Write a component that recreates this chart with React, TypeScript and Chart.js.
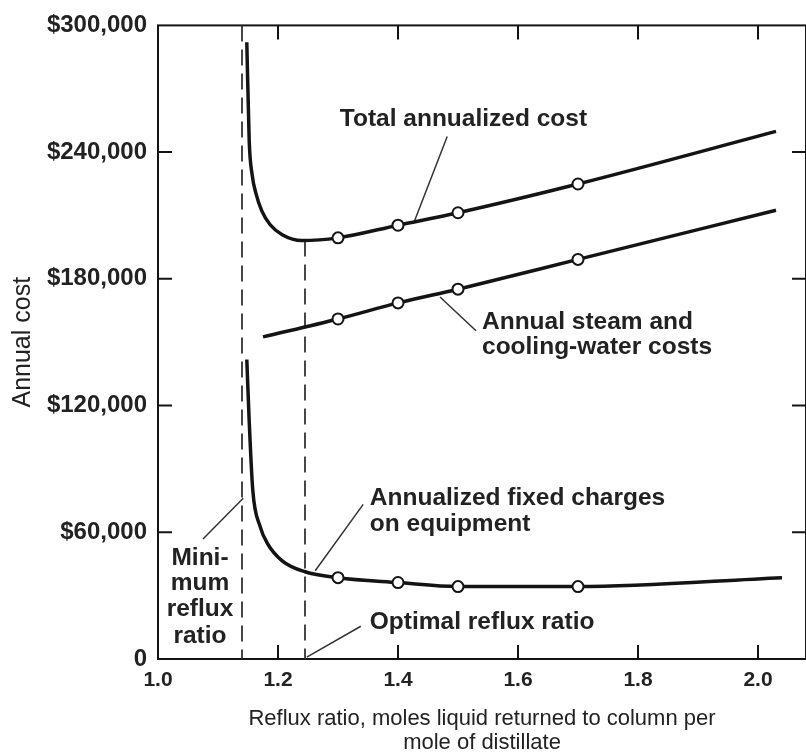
import React, { useEffect, useRef } from "react";
import { Chart, registerables } from "chart.js";

Chart.register(...registerables);

// ---- data ----
const xTicks = [1.0, 1.2, 1.4, 1.6, 1.8, 2.0];
const yTicks = [0, 60000, 120000, 180000, 240000, 300000];

const totalR = [1.148, 1.152, 1.157, 1.163, 1.173, 1.187, 1.207, 1.24, 1.3, 1.4, 1.5, 1.7, 2.03];
const totalCost = [292000, 245500, 229100, 220700, 212200, 205600, 200900, 198100, 199400, 205400, 211300, 224900, 249800];

const steamR = [1.175, 1.3, 1.4, 1.5, 1.7, 2.03];
const steamCost = [152500, 161000, 168600, 175100, 189200, 212500];

const fixedR = [1.148, 1.152, 1.158, 1.17, 1.182, 1.207, 1.245, 1.3, 1.4, 1.5, 1.7, 2.04];
const fixedCost = [141800, 112700, 79800, 62900, 54900, 46500, 41300, 38500, 36200, 34300, 34300, 38500];

const markedR = [1.3, 1.4, 1.5, 1.7];

const minRefluxR = 1.14;
const optimalR = 1.245;
const optimalCost = 198100;

// annotation texts (anchored in data units)
const notes = [
  { lines: ["Total annualized cost"], x: 1.303, y: [255400], align: "left", leader: [1.482, 247400, 1.427, 207000] },
  { lines: ["Annual steam and", "cooling-water costs"], x: 1.54, y: [159600, 147400], align: "left", leader: [1.47, 171400, 1.53, 155400] },
  { lines: ["Annualized fixed charges", "on equipment"], x: 1.353, y: [76100, 63900], align: "left", leader: [1.342, 73200, 1.262, 41800] },
  { lines: ["Mini-", "mum", "reflux", "ratio"], x: 1.07, y: [47900, 35700, 23500, 10800], align: "center", leader: [1.075, 56800, 1.142, 76100] },
  { lines: ["Optimal reflux ratio"], x: 1.353, y: [17400], align: "left", leader: [1.248, 900, 1.338, 15500] },
];

const FONT = "'Liberation Sans', Arial, Helvetica, sans-serif";
const INK = "#141414";
const TEXT = "#222";

const toPts = (xs: number[], ys: number[]) => xs.map((x, i) => ({ x, y: ys[i] }));

const framePlugin = {
  id: "frameAndNotes",
  beforeDatasetsDraw(chart: any) {
    const { ctx, chartArea: a, scales } = chart;
    const xs = scales.x;
    const ys = scales.y;
    ctx.save();
    // frame
    ctx.strokeStyle = INK;
    ctx.lineWidth = 2;
    ctx.strokeRect(a.left, a.top, a.right - a.left, a.bottom - a.top);
    // inward ticks
    const tl = 14;
    ctx.lineWidth = 2;
    ctx.beginPath();
    yTicks.forEach((v) => {
      if (v === yTicks[0] || v === yTicks[yTicks.length - 1]) return;
      const py = ys.getPixelForValue(v);
      ctx.moveTo(a.left, py);
      ctx.lineTo(a.left + tl, py);
      ctx.moveTo(a.right, py);
      ctx.lineTo(a.right - tl, py);
    });
    xTicks.forEach((v) => {
      if (v === xTicks[0]) return;
      const px = xs.getPixelForValue(v);
      ctx.moveTo(px, a.bottom);
      ctx.lineTo(px, a.bottom - tl);
      ctx.moveTo(px, a.top);
      ctx.lineTo(px, a.top + tl);
    });
    ctx.stroke();
    // dashed verticals
    ctx.setLineDash([16, 8]);
    ctx.lineWidth = 1.8;
    ctx.strokeStyle = "#333";
    ctx.beginPath();
    const pmin = xs.getPixelForValue(minRefluxR);
    ctx.moveTo(pmin, a.top);
    ctx.lineTo(pmin, a.bottom);
    const popt = xs.getPixelForValue(optimalR);
    ctx.moveTo(popt, ys.getPixelForValue(optimalCost));
    ctx.lineTo(popt, a.bottom);
    ctx.stroke();
    ctx.setLineDash([]);
    // leaders
    ctx.lineWidth = 1.5;
    ctx.strokeStyle = "#333";
    ctx.beginPath();
    notes.forEach((n) => {
      const [x1, y1, x2, y2] = n.leader;
      ctx.moveTo(xs.getPixelForValue(x1), ys.getPixelForValue(y1));
      ctx.lineTo(xs.getPixelForValue(x2), ys.getPixelForValue(y2));
    });
    ctx.stroke();
    ctx.restore();
  },
  afterDatasetsDraw(chart: any) {
    const { ctx, scales } = chart;
    const xs = scales.x;
    const ys = scales.y;
    ctx.save();
    ctx.fillStyle = TEXT;
    ctx.font = `bold 24.5px ${FONT}`;
    ctx.textBaseline = "middle";
    notes.forEach((n) => {
      ctx.textAlign = n.align as CanvasTextAlign;
      const px = xs.getPixelForValue(n.x);
      n.lines.forEach((t, i) => {
        ctx.fillText(t, px, ys.getPixelForValue(n.y[i]));
      });
    });
    ctx.restore();
  },
};

export default function App() {
  const ref = useRef<HTMLCanvasElement | null>(null);
  useEffect(() => {
    document.body.style.margin = "0";
    const canvas = ref.current;
    if (!canvas) return;
    const lineStyle = {
      borderColor: INK,
      borderWidth: 3.5,
      cubicInterpolationMode: "monotone" as const,
      pointRadius: (c: any) => (c.raw && markedR.includes(c.raw.x) ? 5.5 : 0),
      pointHoverRadius: 0,
      pointBackgroundColor: "#fff",
      pointBorderColor: INK,
      pointBorderWidth: 2,
      fill: false,
    };
    const chart = new Chart(canvas, {
      type: "line",
      data: {
        datasets: [
          { label: "Total annualized cost", data: toPts(totalR, totalCost), ...lineStyle },
          { label: "Annual steam and cooling-water costs", data: toPts(steamR, steamCost), ...lineStyle },
          { label: "Annualized fixed charges on equipment", data: toPts(fixedR, fixedCost), ...lineStyle },
        ],
      },
      options: {
        animation: false,
        responsive: false,
        devicePixelRatio: 1,
        layout: { padding: { top: 20, right: 0, bottom: 0, left: 0 } },
        plugins: { legend: { display: false }, tooltip: { enabled: false } },
        events: [],
        scales: {
          x: {
            type: "linear",
            min: 1.0,
            max: 2.08,
            grid: { display: false, drawTicks: false },
            border: { display: false },
            afterBuildTicks: (s: any) => {
              s.ticks = xTicks.map((v) => ({ value: v }));
            },
            afterFit: (s: any) => {
              s.height = 96;
            },
            ticks: {
              padding: 9,
              autoSkip: false,
              maxRotation: 0,
              color: TEXT,
              font: { family: FONT, size: 21, weight: "bold" },
              callback: (v: any) => Number(v).toFixed(1),
            },
            title: {
              display: true,
              text: ["Reflux ratio, moles liquid returned to column per", "mole of distillate"],
              color: TEXT,
              font: { family: FONT, size: 22, lineHeight: 1.1 },
              padding: { top: 0, bottom: 0 },
            },
          },
          y: {
            type: "linear",
            min: 0,
            max: 300000,
            grid: { display: false, drawTicks: false },
            border: { display: false },
            afterBuildTicks: (s: any) => {
              s.ticks = yTicks.map((v) => ({ value: v }));
            },
            afterFit: (s: any) => {
              s.width = 158;
            },
            ticks: {
              padding: 11,
              color: TEXT,
              font: { family: FONT, size: 24, weight: "bold" },
              callback: (v: any) => (Number(v) === 0 ? "0" : "$" + Number(v).toLocaleString("en-US")),
            },
            title: {
              display: true,
              text: "Annual cost",
              color: TEXT,
              font: { family: FONT, size: 25 },
              padding: { top: 8, bottom: 0 },
            },
          },
        },
      },
      plugins: [framePlugin],
    } as any);
    return () => chart.destroy();
  }, []);
  return (
    <div style={{ width: 806, height: 755 }}>
      <canvas ref={ref} width={806} height={755} style={{ display: "block", width: 806, height: 755 }} />
    </div>
  );
}
